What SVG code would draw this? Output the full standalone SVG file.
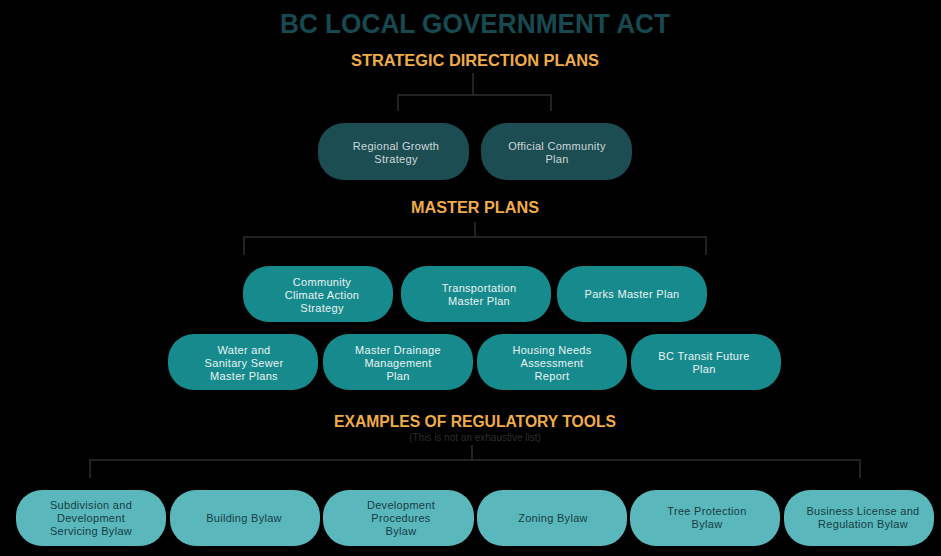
<svg xmlns="http://www.w3.org/2000/svg" width="941" height="556" viewBox="0 0 941 556">
<style>
.h{font-family:"Liberation Sans",Arial,sans-serif;font-weight:bold;text-anchor:middle}
.t{font-family:"Liberation Sans",Arial,sans-serif;font-size:11px;text-anchor:middle;letter-spacing:0.3px}
.c{fill:none;stroke:#2e2e2e;stroke-width:1.5}
.n1{fill:#1b4d52}
.n2{fill:#168a8c}
.n3{fill:#5ab8bd}
.l1{fill:#cfd8d8}
.l2{fill:#eaf4f4}
.l3{fill:#173c42}
</style>
<rect width="941" height="556" fill="#000"/>
<text class="h" x="475" y="33" font-size="27" fill="#174a50" textLength="390" lengthAdjust="spacingAndGlyphs">BC LOCAL GOVERNMENT ACT</text>
<text class="h" x="475" y="66" font-size="16" fill="#f0ac4a" textLength="248" lengthAdjust="spacingAndGlyphs">STRATEGIC DIRECTION PLANS</text>
<text class="h" x="475" y="213" font-size="16" fill="#f0ac4a" textLength="128" lengthAdjust="spacingAndGlyphs">MASTER PLANS</text>
<text class="h" x="475" y="427" font-size="16" fill="#f0ac4a" textLength="282" lengthAdjust="spacingAndGlyphs">EXAMPLES OF REGULATORY TOOLS</text>
<text x="475" y="441" font-family="Liberation Sans,Arial,sans-serif" font-size="10" fill="#2e2e2e" text-anchor="middle">(This is not an exhaustive list)</text>
<g id="connectors">
<path class="c" d="M473 73V95M398 111V95H551V111"/>
<path class="c" d="M475 222V237M244 255V237H706V255"/>
<path class="c" d="M472 445V460M90 478V460H860V478"/>
</g>
<g id="regional-growth"><rect class="n1" x="318" y="123" width="151" height="57" rx="26"/><text class="t l1" x="396" y="150">Regional Growth</text><text class="t l1" x="396" y="163">Strategy</text></g>
<g id="ocp"><rect class="n1" x="481" y="123" width="151" height="57" rx="26"/><text class="t l1" x="557" y="150">Official Community</text><text class="t l1" x="557" y="163">Plan</text></g>
<g id="climate"><rect class="n2" x="243" y="266" width="150" height="56" rx="26"/><text class="t l2" x="322" y="286">Community</text><text class="t l2" x="322" y="299">Climate Action</text><text class="t l2" x="322" y="312">Strategy</text></g>
<g id="transportation"><rect class="n2" x="401" y="266" width="150" height="56" rx="26"/><text class="t l2" x="479" y="292">Transportation</text><text class="t l2" x="479" y="305">Master Plan</text></g>
<g id="parks"><rect class="n2" x="557" y="266" width="150" height="56" rx="26"/><text class="t l2" x="632" y="298">Parks Master Plan</text></g>
<g id="water"><rect class="n2" x="168" y="334" width="150" height="56" rx="26"/><text class="t l2" x="244" y="354">Water and</text><text class="t l2" x="244" y="367">Sanitary Sewer</text><text class="t l2" x="244" y="380">Master Plans</text></g>
<g id="drainage"><rect class="n2" x="323" y="334" width="150" height="56" rx="26"/><text class="t l2" x="398" y="354">Master Drainage</text><text class="t l2" x="398" y="367">Management</text><text class="t l2" x="398" y="380">Plan</text></g>
<g id="housing"><rect class="n2" x="477" y="334" width="150" height="56" rx="26"/><text class="t l2" x="552" y="354">Housing Needs</text><text class="t l2" x="552" y="367">Assessment</text><text class="t l2" x="552" y="380">Report</text></g>
<g id="transit"><rect class="n2" x="631" y="334" width="150" height="56" rx="26"/><text class="t l2" x="704" y="360">BC Transit Future</text><text class="t l2" x="704" y="373">Plan</text></g>
<g id="subdivision"><rect class="n3" x="16" y="490" width="150" height="56" rx="26"/><text class="t l3" x="91" y="509">Subdivision and</text><text class="t l3" x="91" y="522">Development</text><text class="t l3" x="91" y="535">Servicing Bylaw</text></g>
<g id="building"><rect class="n3" x="170" y="490" width="150" height="56" rx="26"/><text class="t l3" x="244" y="522">Building Bylaw</text></g>
<g id="devproc"><rect class="n3" x="323" y="490" width="151" height="56" rx="26"/><text class="t l3" x="401" y="509">Development</text><text class="t l3" x="401" y="522">Procedures</text><text class="t l3" x="401" y="535">Bylaw</text></g>
<g id="zoning"><rect class="n3" x="477" y="490" width="150" height="56" rx="26"/><text class="t l3" x="553" y="522">Zoning Bylaw</text></g>
<g id="tree"><rect class="n3" x="630" y="490" width="150" height="56" rx="26"/><text class="t l3" x="707" y="515">Tree Protection</text><text class="t l3" x="707" y="528">Bylaw</text></g>
<g id="business"><rect class="n3" x="784" y="490" width="150" height="56" rx="26"/><text class="t l3" x="863" y="515">Business License and</text><text class="t l3" x="863" y="528">Regulation Bylaw</text></g>
</svg>
